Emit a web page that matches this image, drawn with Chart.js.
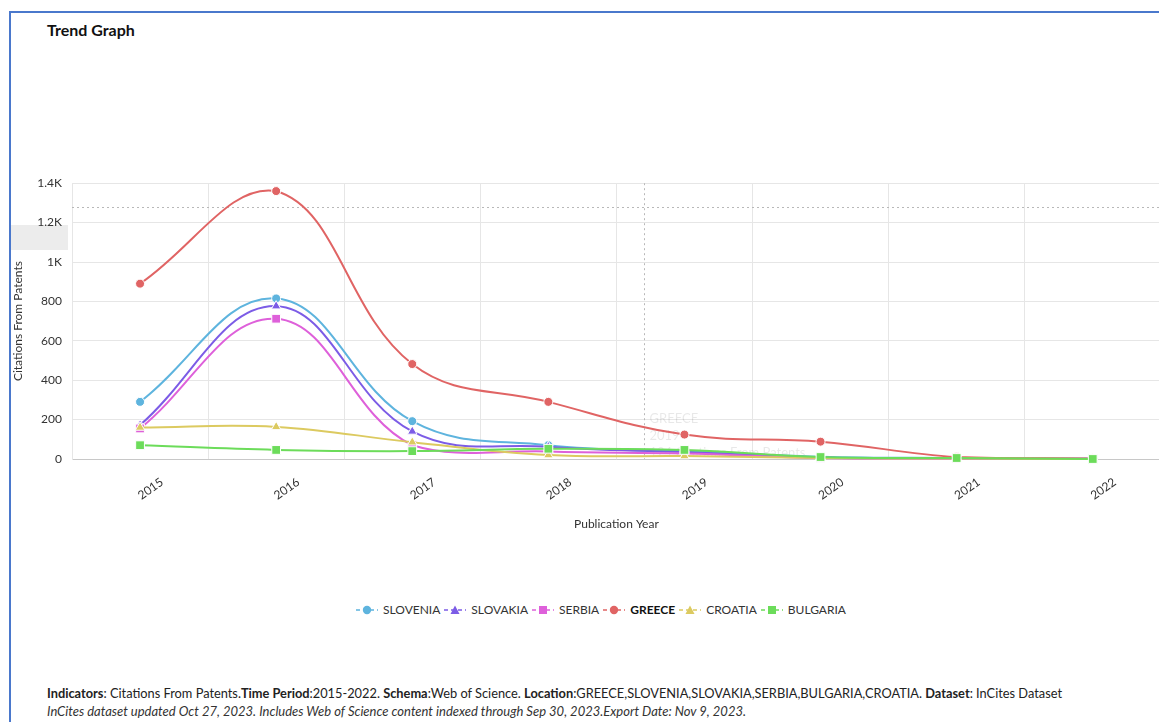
<!DOCTYPE html>
<html>
<head>
<meta charset="utf-8">
<title>Trend Graph</title>
<script src="https://cdn.jsdelivr.net/npm/chart.js@4.4.0/dist/chart.umd.min.js"></script>
<style>
  html, body { margin: 0; padding: 0; background: #fff; width: 1159px; height: 722px; overflow: hidden;
    font-family: Lato, "Open Sans", sans-serif; color: #222; }
  .frame { position: absolute; left: 9px; top: 11px; width: 1300px; height: 900px;
    border-left: 2px solid #4a78cc; border-top: 2px solid #4a78cc; }
  .title { position: absolute; left: 47px; top: 20px; font-size: 16px; font-weight: 700; color: #111; }
  .crossbox { position: absolute; left: 11px; top: 225px; width: 57px; height: 25px; background: #ececec; }
  #wrap { position: absolute; left: 10px; top: 166px; width: 1158px; height: 374px; }
  #legend { position: absolute; left: 0; top: 602px; width: 1202px; display: flex; justify-content: center;
    font-size: 12px; color: #333; }
  #legend .item { display: flex; align-items: center; margin: 0 2px; }
  #legend svg { margin-right: 5px; }
  .foot { position: absolute; left: 47px; color: #222; white-space: nowrap; }
  .foot.l1 { top: 685px; font-size: 12.8px; }
  .foot.l2 { top: 703px; font-size: 13px; font-style: italic; color: #333; }
</style>
</head>
<body>
<div class="frame"></div>
<div class="title">Trend Graph</div>
<div class="crossbox"></div>
<div id="wrap"><canvas id="trend"></canvas></div>
<div id="legend"></div>
<div class="foot l1"><b>Indicators</b>: Citations From Patents.<b>Time Period</b>:2015-2022. <b>Schema</b>:Web of Science. <b>Location</b>:GREECE,SLOVENIA,SLOVAKIA,SERBIA,BULGARIA,CROATIA. <b>Dataset</b>: InCites Dataset</div>
<div class="foot l2">InCites dataset updated Oct 27, 2023. Includes Web of Science content indexed through Sep 30, 2023.Export Date: Nov 9, 2023.</div>
<script>
// values
var years = ["2015", "2016", "2017", "2018", "2019", "2020", "2021", "2022"];
var slovenia = [290, 815, 192, 70, 40, 12, 5, 1];
var slovakia = [172, 776, 140, 62, 35, 8, 3, 1];
var serbia = [155, 712, 70, 38, 28, 5, 2, 0];
var greece = [890, 1360, 482, 290, 124, 88, 10, 2];
var croatia = [160, 163, 85, 20, 15, 5, 2, 0];
var bulgaria = [70, 46, 40, 52, 46, 10, 5, 0];

var yTicks = [0, 200, 400, 600, 800, 1000, 1200, 1400];
var names = ["SLOVENIA", "SLOVAKIA", "SERBIA", "GREECE", "CROATIA", "BULGARIA"];
var series = [slovenia, slovakia, serbia, greece, croatia, bulgaria];
var colors = ["#5eb4de", "#7c5ce6", "#de60da", "#e06464", "#dcca60", "#6cdc5a"];
var shapes = ["circle", "triangle", "rect", "circle", "triangle", "rect"];
var hovered = "GREECE";
var crossAt = [3.7, 1280]; // leftover crosshair position (x index, y value)

var RADIUS = { circle: 4.5, triangle: 5.5, rect: 6.2 };

function fmtK(v) {
  return v >= 1000 ? (v / 1000) + "K" : String(v);
}

// legend: dashed line + marker, built from the same arrays
(function () {
  var lg = document.getElementById("legend");
  names.forEach(function (n, i) {
    var c = colors[i];
    var mark;
    if (shapes[i] === "circle") mark = '<circle cx="11" cy="6" r="4.2" fill="' + c + '"/>';
    else if (shapes[i] === "triangle") mark = '<polygon points="11,1.5 15.5,10 6.5,10" fill="' + c + '"/>';
    else mark = '<rect x="7" y="2" width="8" height="8" fill="' + c + '"/>';
    var item = document.createElement("div");
    item.className = "item";
    item.innerHTML =
      '<svg width="22" height="12"><line x1="0" y1="6" x2="22" y2="6" stroke="' + c +
      '" stroke-width="1.5" stroke-dasharray="4,3"/>' + mark + "</svg>" +
      '<span style="' + (n === hovered ? "font-weight:700;color:#111" : "") + '">' + n + "</span>";
    lg.appendChild(item);
  });
})();

var crosshair = {
  id: "crosshair",
  beforeDatasetsDraw: function (chart) {
    var ctx = chart.ctx, a = chart.chartArea, x = chart.scales.x, y = chart.scales.y;
    var cx = Math.round(x.getPixelForValue(crossAt[0])) + 0.5;
    var cy = Math.round(y.getPixelForValue(crossAt[1])) + 0.5;
    ctx.save();
    ctx.strokeStyle = "#b8b8b8";
    ctx.lineWidth = 1;
    ctx.setLineDash([2, 3]);
    ctx.beginPath();
    ctx.moveTo(a.left, cy); ctx.lineTo(a.right, cy);
    ctx.moveTo(cx, a.top); ctx.lineTo(cx, a.bottom);
    ctx.stroke();
    // faded tooltip ghost
    var gy = y.getPixelForValue(greece[4]);
    ctx.fillStyle = "rgba(0,0,0,0.09)";
    ctx.font = "13px Lato";
    ctx.textBaseline = "middle";
    ctx.fillText("GREECE", cx + 5, gy - 16);
    ctx.fillText(years[4], cx + 5, gy + 1);
    ctx.fillText(greece[4] + " Citations From Patents", cx + 5, gy + 18);
    ctx.restore();
  }
};

new Chart(document.getElementById("trend"), {
  type: "line",
  data: {
    labels: years,
    datasets: names.map(function (n, i) {
      return {
        label: n,
        data: series[i],
        borderColor: colors[i],
        backgroundColor: colors[i],
        borderWidth: 2,
        tension: 0.4,
        pointStyle: shapes[i],
        pointRadius: RADIUS[shapes[i]],
        pointBackgroundColor: colors[i],
        pointBorderColor: "#fff",
        pointBorderWidth: 1,
        clip: false,
        order: names.length - 1 - i,
      };
    }),
  },
  options: {
    responsive: true,
    maintainAspectRatio: false,
    animation: false,
    events: [],
    layout: { padding: { top: 13, left: 0, right: 0, bottom: 0 } },
    plugins: { legend: { display: false }, tooltip: { enabled: false } },
    scales: {
      x: {
        offset: true,
        grid: { offset: true, color: "#e6e6e6", drawTicks: true, tickLength: 8, tickColor: "rgba(0,0,0,0)" },
        border: { color: "#c8c8c8" },
        ticks: {
          color: "#333", font: { family: "Lato", size: 12 },
          minRotation: 35, maxRotation: 35, autoSkip: false, labelOffset: 22, padding: 8,
        },
        title: { display: true, text: "Publication Year", color: "#333",
                 font: { family: "Lato", size: 12 }, padding: { top: 4, bottom: 9 } },
        afterFit: function (s) { s.height = 81; },
      },
      y: {
        min: 0, max: 1400,
        afterBuildTicks: function (s) { s.ticks = yTicks.map(function (v) { return { value: v }; }); },
        grid: { color: "#e6e6e6", drawTicks: false },
        border: { color: "#e6e6e6" },
        ticks: { color: "#333", font: { family: "Lato", size: 12 }, padding: 10, callback: fmtK },
        title: { display: true, text: "Citations From Patents", color: "#333",
                 font: { family: "Lato", size: 12 }, padding: { top: 1, bottom: 0 } },
        afterFit: function (s) { s.width = 62; },
      },
    },
  },
  plugins: [crosshair],
});
</script>
</body>
</html>
